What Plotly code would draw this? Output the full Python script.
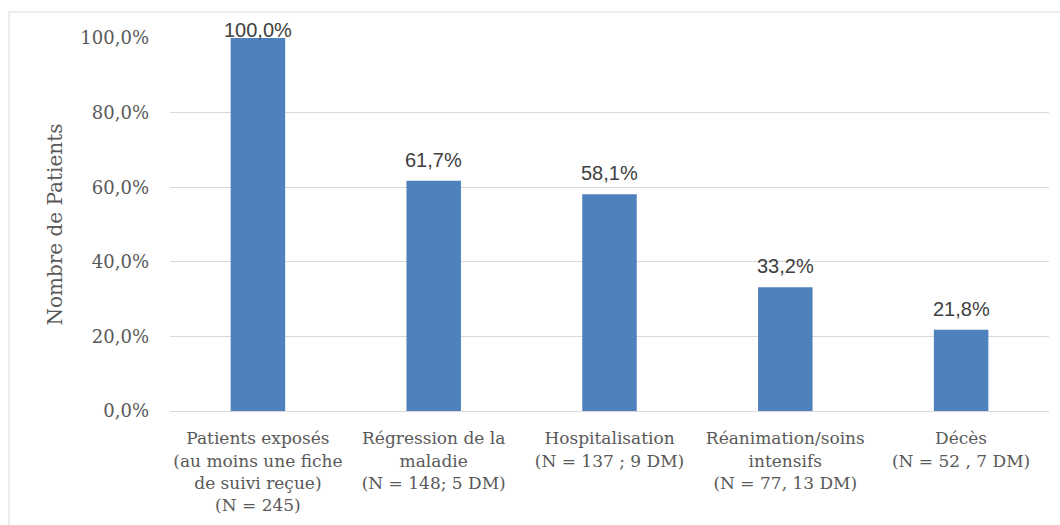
import plotly.graph_objects as go

# Categories and values
categories = [
    "Patients exposés<br>(au moins une fiche<br>de suivi reçue)<br>(N = 245)",
    "Régression de la<br>maladie<br>(N = 148; 5 DM)",
    "Hospitalisation<br>(N = 137 ; 9 DM)",
    "Réanimation/soins<br>intensifs<br>(N = 77, 13 DM)",
    "Décès<br>(N = 52 , 7 DM)",
]
values = [100.0, 61.7, 58.1, 33.2, 21.8]
tick_vals = [0, 20, 40, 60, 80, 100]
tick_text = ["0,0%", "20,0%", "40,0%", "60,0%", "80,0%", "100,0%"]

W, H = 1060, 525
ML, MR, MT, MB = 170, 11, 38, 114
plot_w = W - ML - MR
plot_h = H - MT - MB

bar_color = "#4f81bd"
serif = "DejaVu Serif"

fig = go.Figure(
    go.Bar(
        x=categories,
        y=values,
        marker=dict(color=bar_color, line=dict(width=0)),
        width=0.31,
        hoverinfo="skip",
    )
)

# Value labels above bars (the tallest one is pulled down to stay in the frame)
for cat, v in zip(categories, values):
    shift = 8 if v >= 100 else 21
    fig.add_annotation(
        x=cat, y=v, xref="x", yref="y", yshift=shift,
        text=f"{v:.1f}%".replace(".", ","),
        showarrow=False, yanchor="middle",
        font=dict(family="Liberation Sans", size=20, color="#404040"),
    )

# Light outer frame
fig.add_shape(
    type="rect", xref="paper", yref="paper",
    x0=(9 - ML) / plot_w, x1=1 + 20 / plot_w,
    y0=-(MB + 10) / plot_h, y1=1 + (MT - 12) / plot_h,
    line=dict(color="#e8e8e8", width=1.5), fillcolor="rgba(0,0,0,0)",
    layer="below",
)

fig.update_layout(
    width=W, height=H,
    margin=dict(l=ML, r=MR, t=MT, b=MB),
    paper_bgcolor="white", plot_bgcolor="white",
    showlegend=False,
    yaxis=dict(
        range=[0, 100],
        tickvals=tick_vals, ticktext=tick_text,
        tickfont=dict(family=serif, size=18, color="#595959"),
        ticklabelstandoff=20,
        showgrid=True, gridcolor="#d9d9d9", gridwidth=1,
        zeroline=False, showline=False, ticks="",
        title=dict(text="Nombre de Patients", standoff=12,
                   font=dict(family=serif, size=20, color="#595959")),
    ),
    xaxis=dict(
        tickfont=dict(family=serif, size=17, color="#595959"),
        showline=True, linecolor="#d9d9d9", linewidth=1,
        ticks="", showgrid=False,
        ticklabelstandoff=12,
        tickangle=0,
    ),
)

fig.write_html("out.html")
